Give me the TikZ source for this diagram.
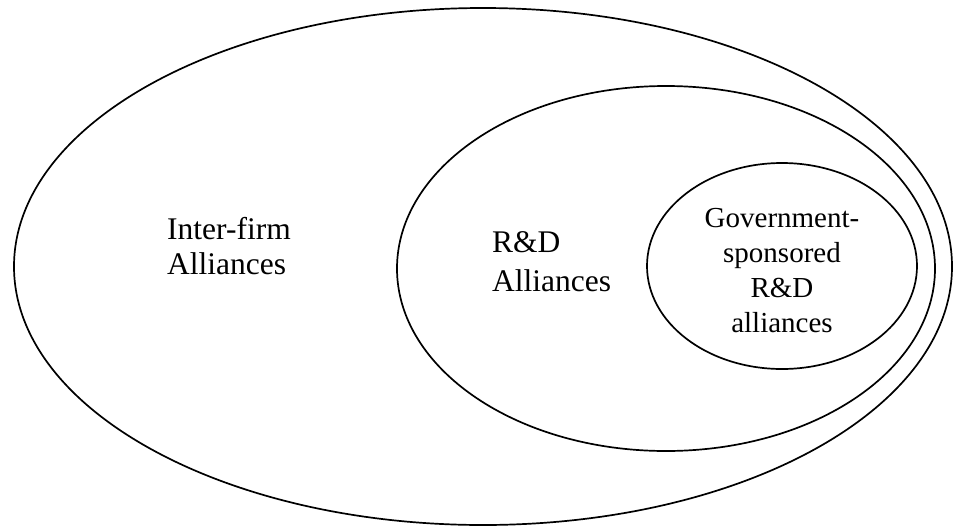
\documentclass[tikz,border=0pt]{standalone}
\usepackage{fontspec}
\setmainfont{Liberation Serif}
\begin{document}
\begin{tikzpicture}[x=1pt,y=-1pt,
  setline/.style={draw=black,line width=1.7pt},
  biglabel/.style={font=\fontsize{31.5}{35}\selectfont,align=left,inner sep=0pt},
  smalllabel/.style={font=\fontsize{29}{35}\selectfont,align=center,inner sep=0pt}]
\useasboundingbox (0,0) rectangle (956,528);
% nested sets of alliances
\draw[setline] (483,266.5) ellipse [x radius=469,y radius=258.5];
\draw[setline] (666,268.5) ellipse [x radius=269,y radius=182.5];
\draw[setline] (782,266) ellipse [x radius=135,y radius=103];
% set labels (base anchor sits on the last line)
\node[biglabel,anchor=base west] (interfirm) at (167,274) {Inter-firm\\Alliances};
\node[biglabel,font=\fontsize{31.5}{39}\selectfont,anchor=base west] (rnd) at (492,291) {R\&D\\Alliances};
\node[smalllabel,anchor=base] (gov) at (782,332) {Government-\\sponsored\\R\&D\\alliances};
\end{tikzpicture}
\end{document}
